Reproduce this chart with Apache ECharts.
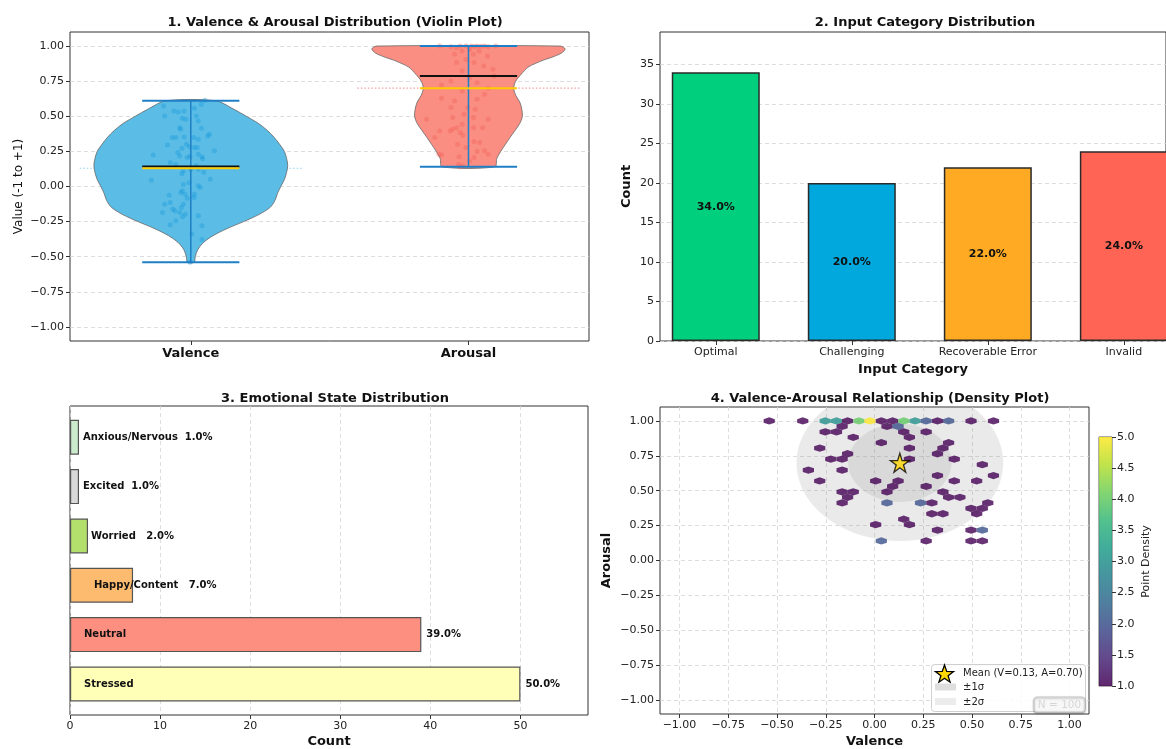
<!DOCTYPE html>
<html>
<head>
<meta charset="utf-8">
<script src="https://cdn.jsdelivr.net/npm/echarts@6/dist/echarts.min.js"></script>
<style>
  html, body { margin: 0; padding: 0; background: #fff; }
  #main { width: 1166px; height: 749px; }
</style>
</head>
<body>
<div id="main"></div>
<script>
const FONT = 'DejaVu Sans';

// ---- 1. violin plot ----
const violinNames = ['Valence', 'Arousal'];
const violinPos = [1, 2];
const violinColors = ['#5bbde6', '#fa8e82'];
const dotColors = ['rgba(20,150,215,0.45)', 'rgba(240,95,85,0.45)'];
const meanLineColors = ['#8fd3f0', '#f3a0a0'];
const violinMin = [-0.54, 0.14];
const violinMax = [0.61, 1.0];
const violinMedian = [0.142, 0.787];
const violinMean = [0.13, 0.70];
const valueTicks = [-1, -0.75, -0.5, -0.25, 0, 0.25, 0.5, 0.75, 1];
// outline: [value, half width in x units]
const valenceProfile = [
  [0.61, 0.09], [0.55, 0.155], [0.50, 0.20], [0.45, 0.243], [0.40, 0.275], [0.35, 0.30],
  [0.30, 0.32], [0.25, 0.337], [0.20, 0.345], [0.15, 0.349], [0.10, 0.345], [0.05, 0.337],
  [0.00, 0.324], [-0.05, 0.312], [-0.10, 0.303], [-0.15, 0.285], [-0.20, 0.245], [-0.25, 0.19],
  [-0.30, 0.13], [-0.35, 0.08], [-0.40, 0.045], [-0.45, 0.025], [-0.50, 0.016], [-0.54, 0.012]
];
const arousalProfile = [
  [1.00, 0.33], [0.98, 0.348], [0.95, 0.335], [0.92, 0.30], [0.90, 0.27], [0.875, 0.24],
  [0.85, 0.215], [0.80, 0.19], [0.75, 0.17], [0.70, 0.163], [0.65, 0.17], [0.60, 0.185],
  [0.55, 0.192], [0.50, 0.194], [0.45, 0.185], [0.40, 0.168], [0.35, 0.15], [0.30, 0.133],
  [0.25, 0.116], [0.20, 0.102], [0.14, 0.095]
];
const violinProfiles = [valenceProfile, arousalProfile];
// jittered samples: [x position, value]
const valencePoints = [
  [1.051, 0.614], [1.038, 0.585], [0.902, 0.573], [0.906, 0.502], [0.939, 0.538], [0.955, 0.531],
  [0.976, 0.538], [1.013, 0.557], [1.020, 0.502], [0.982, 0.479], [0.969, 0.486], [0.960, 0.419],
  [0.964, 0.408], [1.027, 0.467], [1.038, 0.415], [1.067, 0.372], [1.061, 0.360], [0.933, 0.348],
  [0.946, 0.348], [0.976, 0.353], [1.011, 0.348], [1.027, 0.336], [0.916, 0.296], [0.984, 0.301],
  [0.995, 0.284], [1.012, 0.277], [1.023, 0.277], [0.968, 0.273], [1.027, 0.230], [1.085, 0.254],
  [0.865, 0.225], [0.960, 0.218], [0.997, 0.216], [1.040, 0.211], [1.043, 0.197], [0.926, 0.171],
  [0.946, 0.159], [1.020, 0.147], [1.027, 0.123], [1.000, 0.123], [0.973, 0.111], [0.968, 0.090],
  [1.047, 0.102], [0.858, 0.045], [1.070, 0.052], [0.973, 0.014], [0.993, 0.026], [1.027, 0.005],
  [1.034, -0.007], [0.970, -0.031], [0.964, -0.043], [0.980, -0.055], [0.922, -0.062], [1.013, -0.055],
  [0.987, -0.083], [0.926, -0.114], [0.973, -0.126], [0.966, -0.149], [0.906, -0.126], [0.943, -0.173],
  [0.960, -0.185], [0.980, -0.197], [1.027, -0.209], [0.946, -0.244], [0.926, -0.273], [0.970, -0.216],
  [1.040, -0.280], [1.004, -0.339], [1.040, -0.377], [0.997, -0.540], [0.898, -0.185], [0.935, -0.161],
  [1.011, -0.078], [0.953, 0.242], [0.987, 0.206]
];
const arousalPoints = [
  [1.896, 1.0], [1.937, 0.995], [1.970, 1.0], [1.991, 1.0], [2.011, 1.0], [2.022, 0.995],
  [2.031, 1.0], [2.045, 0.998], [2.058, 1.0], [2.071, 0.995], [2.098, 1.0], [1.957, 0.988],
  [2.004, 0.976], [1.977, 0.964], [2.038, 0.964], [1.950, 0.941], [2.018, 0.941], [2.069, 0.929],
  [1.957, 0.882], [2.020, 0.882], [1.991, 0.905], [2.055, 0.858], [1.977, 0.822], [2.088, 0.834],
  [2.004, 0.775], [2.092, 0.787], [1.937, 0.751], [2.031, 0.739], [1.903, 0.723], [1.977, 0.680],
  [2.071, 0.699], [2.058, 0.656], [1.903, 0.628], [1.950, 0.609], [2.031, 0.621], [1.997, 0.562],
  [1.937, 0.562], [1.984, 0.514], [2.024, 0.550], [2.018, 0.491], [1.849, 0.479], [2.071, 0.479],
  [1.943, 0.491], [1.977, 0.443], [1.957, 0.419], [1.896, 0.396], [1.943, 0.408], [2.018, 0.419],
  [2.051, 0.419], [1.934, 0.396], [1.970, 0.384], [1.980, 0.365], [1.879, 0.348], [2.020, 0.320],
  [2.040, 0.313], [1.961, 0.301], [1.991, 0.277], [2.058, 0.254], [2.031, 0.249], [1.903, 0.225],
  [1.893, 0.230], [2.071, 0.230], [1.966, 0.211], [2.020, 0.206], [1.964, 0.159], [2.004, 0.182],
  [1.980, 0.147], [1.970, 0.140]
];

// ---- 2. input categories ----
const inputCats = ['Optimal', 'Challenging', 'Recoverable Error', 'Invalid'];
const inputCounts = [34, 20, 22, 24];
const inputColors = ['#00cf7e', '#00a8de', '#ffaa22', '#ff6454'];
const countTicks = [0, 5, 10, 15, 20, 25, 30, 35];

// ---- 3. emotional states (bottom to top) ----
const emotionNames = ['Stressed', 'Neutral', 'Happy/Content', 'Worried', 'Excited', 'Anxious/Nervous'];
const emotionCounts = [50, 39, 7, 2, 1, 1];
const emotionColors = ['#ffffb8', '#fc8f80', '#fdbb70', '#b3df6c', '#d9d9d9', '#ccebcc'];
const emotionTicks = [0, 10, 20, 30, 40, 50];

// ---- 4. valence/arousal hexbin: [valence, arousal, count] ----
const hexData = [
  [-0.540, 1.000, 1], [-0.368, 1.000, 1], [-0.253, 1.000, 3], [-0.195, 1.000, 3], [-0.138, 1.000, 1],
  [-0.080, 1.000, 4], [-0.023, 1.000, 5], [0.035, 1.000, 1], [0.093, 1.000, 1], [0.150, 1.000, 4],
  [0.208, 1.000, 3], [0.265, 1.000, 2], [0.323, 1.000, 1], [0.380, 1.000, 2], [0.495, 1.000, 1],
  [0.610, 1.000, 1],
  [-0.166, 0.961, 1], [0.064, 0.961, 1], [0.121, 0.961, 2],
  [-0.253, 0.922, 1], [-0.195, 0.922, 1], [0.150, 0.922, 1], [0.265, 0.922, 1],
  [-0.109, 0.883, 1], [0.179, 0.883, 1],
  [0.035, 0.844, 1], [0.380, 0.844, 1],
  [-0.281, 0.805, 1], [0.179, 0.805, 1], [0.351, 0.805, 1],
  [-0.138, 0.765, 1], [0.323, 0.765, 1],
  [-0.224, 0.726, 1], [-0.166, 0.726, 1], [0.179, 0.726, 1], [0.409, 0.726, 1],
  [0.553, 0.687, 1],
  [-0.339, 0.648, 1], [-0.166, 0.648, 1],
  [0.323, 0.609, 1], [0.610, 0.609, 1],
  [-0.281, 0.570, 1], [0.006, 0.570, 1], [0.121, 0.570, 1], [0.409, 0.570, 1], [0.524, 0.570, 1],
  [0.093, 0.531, 1], [0.265, 0.531, 1],
  [-0.166, 0.492, 1], [-0.109, 0.492, 1], [0.064, 0.492, 1], [0.351, 0.492, 1],
  [-0.138, 0.453, 1], [0.380, 0.453, 1], [0.438, 0.453, 1],
  [-0.166, 0.413, 1], [0.064, 0.413, 2], [0.236, 0.413, 2], [0.294, 0.413, 1], [0.581, 0.413, 1],
  [0.495, 0.374, 1], [0.553, 0.374, 1],
  [0.294, 0.335, 1], [0.351, 0.335, 1], [0.524, 0.335, 1],
  [0.150, 0.296, 1],
  [0.006, 0.257, 1], [0.179, 0.257, 1],
  [0.323, 0.218, 1], [0.495, 0.218, 1], [0.553, 0.218, 2],
  [0.035, 0.140, 2], [0.265, 0.140, 1], [0.495, 0.140, 1], [0.553, 0.140, 1]
];
const hexW = 0.0575;
const hexH = 0.0782;
const meanV = 0.13;
const meanA = 0.70;
const sigmaV = 0.265;
const sigmaA = 0.28;
const sigmaLevels = [2, 1];
const vaTicks = [-1, -0.75, -0.5, -0.25, 0, 0.25, 0.5, 0.75, 1];
const densityRange = [1, 5];
const viridis = ['#440154', '#482878', '#3e4989', '#31688e', '#26828e', '#1f9e89', '#35b779', '#6ece58', '#b5de2b', '#fde725'];

const minus = s => s.replace('-', '\u2212');
const fmt2 = v => minus(v.toFixed(2));
const labelStyle = { color: '#222', fontSize: 11, fontFamily: FONT };
const tickStyle = { length: 4, lineStyle: { color: '#333', width: 1 } };
const noLine = { show: false, onZero: false };
const gridLine = { show: true, lineStyle: { type: [4, 3], color: '#d4d4d4', width: 0.8 } };
const boldName = { fontWeight: 'bold', fontSize: 13, color: '#111', fontFamily: FONT };

const starPath = 'path://M0,-1L0.2245,-0.309L0.951,-0.309L0.363,0.118L0.588,0.809L0,0.382L-0.588,0.809L-0.363,0.118L-0.951,-0.309L-0.2245,-0.309Z';
function starPoints(cx, cy, r) {
  const pts = [];
  for (let k = 0; k < 10; k++) {
    const ang = -Math.PI / 2 + k * Math.PI / 5;
    const rr = k % 2 ? r * 0.4 : r;
    pts.push([cx + rr * Math.cos(ang), cy + rr * Math.sin(ang)]);
  }
  return pts;
}

const total = inputCounts.reduce((a, b) => a + b, 0);
const emoTotal = emotionCounts.reduce((a, b) => a + b, 0);
const pct = v => (v / emoTotal * 100).toFixed(1) + '%';

function line(api, x1, y1, x2, y2, color, w, dash) {
  const a = api.coord([x1, y1]);
  const b = api.coord([x2, y2]);
  return { type: 'line', shape: { x1: a[0], y1: a[1], x2: b[0], y2: b[1] },
    style: { stroke: color, lineWidth: w, lineDash: dash || null } };
}

// emotion labels
const emoLabels = [
  { position: [14, '50%'], align: 'left', verticalAlign: 'middle', text: 'Stressed' },
  { position: [14, '50%'], align: 'left', verticalAlign: 'middle', text: 'Neutral' },
  { position: [24, '50%'], align: 'left', verticalAlign: 'middle', text: 'Happy/Content   ' + pct(7) },
  { position: 'right', distance: 3, text: 'Worried   ' + pct(2) },
  { position: 'right', distance: 4, text: 'Excited  ' + pct(1) },
  { position: 'right', distance: 4, text: 'Anxious/Nervous  ' + pct(1) }
];

const chart = echarts.init(document.getElementById('main'));

const option = {
  animation: false,
  backgroundColor: '#fff',
  textStyle: { fontFamily: FONT },
  title: [
    { text: '1. Valence & Arousal Distribution (Violin Plot)', left: 330, top: 11, textAlign: 'center' },
    { text: '2. Input Category Distribution', left: 920, top: 11, textAlign: 'center' },
    { text: '3. Emotional State Distribution', left: 330, top: 387, textAlign: 'center' },
    { text: '4. Valence-Arousal Relationship (Density Plot)', left: 875, top: 387, textAlign: 'center' }
  ].map(t => Object.assign(t, { textStyle: { fontSize: 13, fontWeight: 'bold', color: '#111', fontFamily: FONT } })),
  grid: [
    { left: 70, top: 32, width: 519, height: 309, show: true, borderColor: '#333', borderWidth: 1 },
    { left: 660, top: 32, width: 506, height: 309, show: true, borderColor: '#333', borderWidth: 1 },
    { left: 70, top: 406, width: 518, height: 310, show: true, borderColor: '#333', borderWidth: 1 },
    { left: 70, top: 412.6, width: 518, height: 296 },
    { left: 660, top: 407, width: 429, height: 311, show: true, borderColor: '#333', borderWidth: 1 },
    { left: 1099, top: 437, width: 13, height: 249, show: true, borderColor: '#333', borderWidth: 0.8 }
  ],
  xAxis: [
    { gridIndex: 0, type: 'value', min: 0.565, max: 2.434, axisLine: noLine,
      axisTick: Object.assign({ customValues: violinPos }, tickStyle),
      axisLabel: { customValues: violinPos, formatter: v => violinNames[violinPos.indexOf(v)],
        fontWeight: 'bold', fontSize: 13, color: '#111', margin: 6, fontFamily: FONT },
      splitLine: { show: false } },
    { gridIndex: 1, type: 'value', min: -0.41, max: 3.31, axisLine: noLine,
      axisTick: Object.assign({ customValues: [0, 1, 2, 3] }, tickStyle),
      axisLabel: Object.assign({ customValues: [0, 1, 2, 3], formatter: v => inputCats[v], margin: 6 }, labelStyle),
      splitLine: { show: false },
      name: 'Input Category', nameLocation: 'middle', nameGap: 22, nameTextStyle: boldName },
    { gridIndex: 2, type: 'value', min: 0, max: 57.5, axisLine: noLine,
      axisTick: Object.assign({ customValues: emotionTicks }, tickStyle),
      axisLabel: Object.assign({ customValues: emotionTicks, margin: 6 }, labelStyle),
      splitLine: gridLine,
      name: 'Count', nameLocation: 'middle', nameGap: 20, nameTextStyle: boldName },
    { gridIndex: 3, type: 'value', min: 0, max: 57.5, show: false, axisLine: noLine },
    { gridIndex: 4, type: 'value', min: -1.1, max: 1.1, axisLine: noLine,
      axisTick: Object.assign({ customValues: vaTicks }, tickStyle),
      axisLabel: Object.assign({ customValues: vaTicks, formatter: fmt2, margin: 6 }, labelStyle),
      splitLine: gridLine,
      name: 'Valence', nameLocation: 'middle', nameGap: 21, nameTextStyle: boldName },
    { gridIndex: 5, type: 'value', min: 0, max: 1, show: false, axisLine: noLine }
  ],
  yAxis: [
    { gridIndex: 0, type: 'value', min: -1.1, max: 1.1, axisLine: noLine,
      axisTick: Object.assign({ customValues: valueTicks }, tickStyle),
      axisLabel: Object.assign({ customValues: valueTicks, formatter: fmt2, margin: 6 }, labelStyle),
      splitLine: gridLine,
      name: 'Value (-1 to +1)', nameLocation: 'middle', nameGap: 45,
      nameTextStyle: { fontSize: 12, color: '#111', fontFamily: FONT } },
    { gridIndex: 1, type: 'value', min: 0, max: 39.1, axisLine: noLine,
      axisTick: Object.assign({ customValues: countTicks }, tickStyle),
      axisLabel: Object.assign({ customValues: countTicks, margin: 6 }, labelStyle),
      splitLine: gridLine,
      name: 'Count', nameLocation: 'middle', nameGap: 27, nameTextStyle: boldName },
    { gridIndex: 2, type: 'value', min: 0, max: 1, show: false, axisLine: noLine },
    { gridIndex: 3, type: 'category', data: emotionNames, axisLine: noLine,
      axisTick: Object.assign({ alignWithLabel: true }, tickStyle), axisLabel: { show: false } },
    { gridIndex: 4, type: 'value', min: -1.1, max: 1.1, axisLine: noLine,
      axisTick: Object.assign({ customValues: vaTicks }, tickStyle),
      axisLabel: Object.assign({ customValues: vaTicks, formatter: fmt2, margin: 6 }, labelStyle),
      splitLine: gridLine,
      name: 'Arousal', nameLocation: 'middle', nameGap: 47, nameTextStyle: boldName },
    { gridIndex: 5, type: 'value', position: 'right', min: densityRange[0], max: densityRange[1], interval: 0.5,
      axisLine: noLine, axisTick: tickStyle,
      axisLabel: Object.assign({ formatter: v => v.toFixed(1), margin: 5 }, labelStyle),
      splitLine: { show: false },
      name: 'Point Density', nameLocation: 'middle', nameGap: 29, nameRotate: 90,
      nameTextStyle: { fontSize: 11, color: '#222', fontFamily: FONT } }
  ],
  visualMap: {
    type: 'continuous', show: false, seriesIndex: 9, dimension: 2,
    min: densityRange[0], max: densityRange[1], inRange: { color: viridis }
  },
  series: [
    // 0: mean reference lines (dotted)
    { type: 'custom', xAxisIndex: 0, yAxisIndex: 0, silent: true, z: 1,
      data: violinPos.map((p, i) => [p, violinMean[i]]),
      renderItem: (params, api) => {
        const i = params.dataIndex;
        return line(api, violinPos[i] - 0.4, violinMean[i], violinPos[i] + 0.4, violinMean[i], meanLineColors[i], 1.2, [1.5, 2]);
      } },
    // 1: violin bodies
    { type: 'custom', xAxisIndex: 0, yAxisIndex: 0, silent: true, z: 2,
      data: violinPos.map((p, i) => [p, violinMedian[i]]),
      renderItem: (params, api) => {
        const i = params.dataIndex;
        const prof = violinProfiles[i];
        const pos = violinPos[i];
        const left = prof.map(p => api.coord([pos - p[1], p[0]]));
        const right = prof.slice().reverse().map(p => api.coord([pos + p[1], p[0]]));
        return { type: 'polygon', shape: { points: left.concat(right), smooth: 0.3 },
          style: { fill: violinColors[i], stroke: '#666', lineWidth: 0.8 } };
      } },
    // 2, 3: jittered samples
    { type: 'scatter', xAxisIndex: 0, yAxisIndex: 0, z: 3, symbolSize: 5, silent: true,
      itemStyle: { color: dotColors[0] }, data: valencePoints },
    { type: 'scatter', xAxisIndex: 0, yAxisIndex: 0, z: 3, symbolSize: 5, silent: true,
      itemStyle: { color: dotColors[1] }, data: arousalPoints },
    // 4: extrema bars, medians, means
    { type: 'custom', xAxisIndex: 0, yAxisIndex: 0, silent: true, z: 4,
      data: violinPos.map((p, i) => [p, violinMedian[i]]),
      renderItem: (params, api) => {
        const i = params.dataIndex;
        const c = violinPos[i];
        const hw = 0.175;
        const blue = '#1f7fc6';
        return { type: 'group', children: [
          line(api, c, violinMin[i], c, violinMax[i], blue, 1.5),
          line(api, c - hw, violinMin[i], c + hw, violinMin[i], blue, 2),
          line(api, c - hw, violinMax[i], c + hw, violinMax[i], blue, 2),
          line(api, c - hw, violinMedian[i], c + hw, violinMedian[i], '#111', 2),
          line(api, c - hw, violinMean[i], c + hw, violinMean[i], '#ffcc00', 2)
        ] };
      } },
    // 5: input category bars
    { type: 'bar', xAxisIndex: 1, yAxisIndex: 1, barWidth: 88,
      data: inputCounts.map((v, i) => ({ value: [i, v], itemStyle: { color: inputColors[i] } })),
      itemStyle: { borderColor: '#2a2a2a', borderWidth: 1.5 },
      label: { show: true, position: 'inside', formatter: p => (p.value[1] / total * 100).toFixed(1) + '%',
        fontWeight: 'bold', fontSize: 11, color: '#111', fontFamily: FONT } },
    // 6: emotion bars
    { type: 'bar', xAxisIndex: 3, yAxisIndex: 3, barWidth: 35, barGap: '-100%',
      data: emotionCounts.map((v, i) => ({
        value: v, itemStyle: { color: emotionColors[i] },
        label: Object.assign({ show: true, formatter: emoLabels[i].text }, emoLabels[i], { text: undefined })
      })),
      itemStyle: { borderColor: '#555', borderWidth: 1.2 },
      label: { fontWeight: 'bold', fontSize: 10, color: '#111', fontFamily: FONT } },
    // 7: percentage labels outside the two long bars
    { type: 'bar', xAxisIndex: 3, yAxisIndex: 3, barWidth: 35, barGap: '-100%', silent: true,
      data: emotionCounts.map((v, i) => ({ value: v, label: { show: v > 20 } })),
      itemStyle: { color: 'rgba(0,0,0,0)' },
      label: { position: 'right', distance: 5, formatter: p => pct(p.value),
        fontWeight: 'bold', fontSize: 10, color: '#111', fontFamily: FONT } },
    // 8: sigma ellipses
    { type: 'custom', xAxisIndex: 4, yAxisIndex: 4, silent: true, z: 1, clip: true,
      data: sigmaLevels.map(k => [meanV, meanA, k]),
      renderItem: (params, api) => {
        const k = api.value(2);
        const pts = [];
        for (let t = 0; t < 96; t++) {
          const a = t / 96 * Math.PI * 2;
          pts.push(api.coord([meanV + k * sigmaV * Math.cos(a), meanA + k * sigmaA * Math.sin(a)]));
        }
        return { type: 'polygon', shape: { points: pts }, style: { fill: 'rgba(150,150,150,0.2)' } };
      } },
    // 9: hexbin cells
    { type: 'custom', xAxisIndex: 4, yAxisIndex: 4, silent: true, z: 2,
      data: hexData,
      renderItem: (params, api) => {
        const c = api.coord([api.value(0), api.value(1)]);
        const w = api.size([hexW, 0])[0];
        const h = api.size([0, hexH])[1];
        const pts = [
          [c[0] + w / 2, c[1] - h / 6], [c[0] + w / 2, c[1] + h / 6], [c[0], c[1] + h / 3],
          [c[0] - w / 2, c[1] + h / 6], [c[0] - w / 2, c[1] - h / 6], [c[0], c[1] - h / 3]
        ];
        return { type: 'polygon', shape: { points: pts }, style: { fill: api.visual('color'), opacity: 0.8 } };
      } },
    // 10: mean star
    { type: 'scatter', xAxisIndex: 4, yAxisIndex: 4, z: 5, silent: true,
      symbol: starPath, symbolSize: 19,
      itemStyle: { color: '#ffd700', borderColor: '#000', borderWidth: 1.3 },
      data: [[meanV, meanA]] },
    // 11: colorbar
    { type: 'custom', xAxisIndex: 5, yAxisIndex: 5, silent: true,
      data: [[0, densityRange[0], densityRange[1]]],
      renderItem: (params, api) => {
        const a = api.coord([0, api.value(2)]);
        const b = api.coord([1, api.value(1)]);
        const stops = viridis.map((c, i) => ({ offset: 1 - i / (viridis.length - 1), color: c }));
        return { type: 'rect', shape: { x: a[0], y: a[1], width: b[0] - a[0], height: b[1] - a[1] },
          style: { fill: new echarts.graphic.LinearGradient(0, 0, 0, 1, stops.reverse()), opacity: 0.85 } };
      } }
  ],
  graphic: [
    { type: 'rect', z: 100, shape: { x: 931.5, y: 664.5, width: 154, height: 47, r: 3 },
      style: { fill: 'rgba(255,255,255,0.85)', stroke: '#cfcfcf', lineWidth: 1 } },
    { type: 'polygon', z: 101, shape: { points: starPoints(944.5, 674.5, 9.5) },
      style: { fill: '#ffd700', stroke: '#000', lineWidth: 1.3 } },
    { type: 'text', z: 101, x: 963, y: 673.5,
      style: { text: 'Mean (V=' + meanV.toFixed(2) + ', A=' + meanA.toFixed(2) + ')', fill: '#222',
        font: '10px "DejaVu Sans"', verticalAlign: 'middle' } },
    { type: 'rect', z: 101, shape: { x: 935, y: 683.5, width: 21, height: 7 }, style: { fill: '#dedede' } },
    { type: 'text', z: 101, x: 963, y: 687.5,
      style: { text: '\u00b11\u03c3', fill: '#222', font: '10px "DejaVu Sans"', verticalAlign: 'middle' } },
    { type: 'rect', z: 101, shape: { x: 935, y: 698, width: 21, height: 7 }, style: { fill: '#ececec' } },
    { type: 'text', z: 101, x: 963, y: 702,
      style: { text: '\u00b12\u03c3', fill: '#222', font: '10px "DejaVu Sans"', verticalAlign: 'middle' } },
    { type: 'rect', z: 102, shape: { x: 1034, y: 697, width: 51, height: 15, r: 3 },
      style: { fill: 'rgba(255,255,255,0.9)', stroke: '#c8c8c8', lineWidth: 1,
        shadowBlur: 2, shadowOffsetY: 1, shadowColor: 'rgba(0,0,0,0.35)' } },
    { type: 'text', z: 103, x: 1059.5, y: 705,
      style: { text: 'N = 100', fill: '#d6d6d6', font: '10.5px "DejaVu Sans"', align: 'center', verticalAlign: 'middle' } }
  ]
};

chart.setOption(option);
</script>
</body>
</html>
